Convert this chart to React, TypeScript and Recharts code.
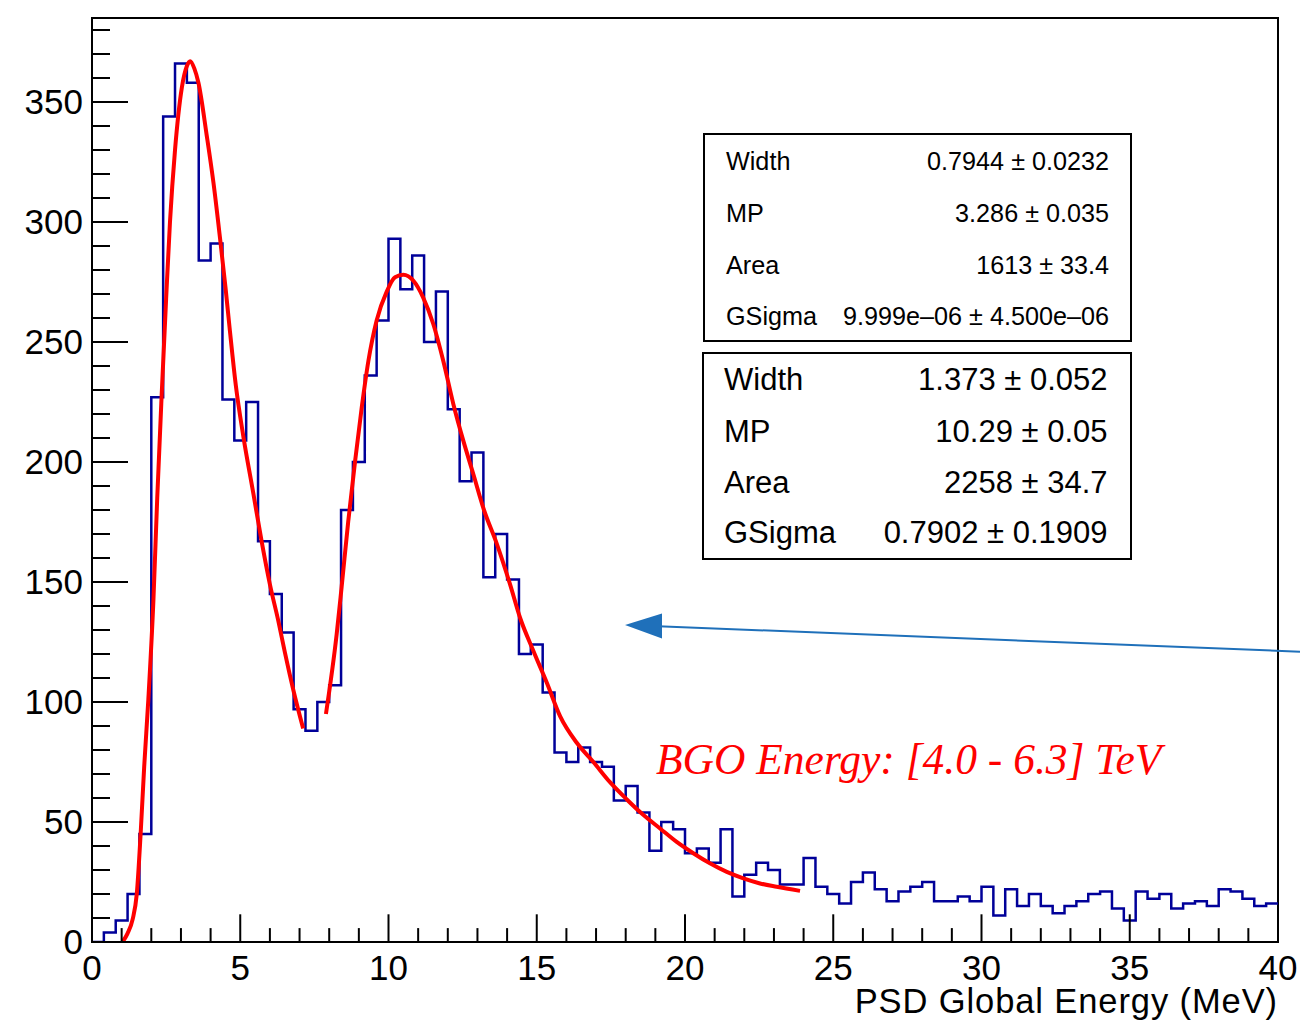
import React from 'react';
import { ComposedChart, Line, XAxis, YAxis, ReferenceArea } from 'recharts';

// Histogram: 100 bins of 0.4 MeV between 0 and 40 MeV
const BIN_WIDTH = 0.4;
const X_MIN = 0;
const X_MAX = 40;
const Y_MAX = 385;

const binCounts = [
  0, 4, 9, 20, 45, 227, 344, 366, 358, 284,
  291, 226, 209, 225, 167, 145, 129, 97, 88, 100,
  107, 180, 200, 236, 259, 293, 272, 286, 250, 271,
  222, 192, 204, 152, 170, 151, 120, 124, 104, 79,
  75, 81, 75, 73, 59, 65, 54, 38, 50, 47,
  37, 39, 33, 47, 19, 28, 33, 30, 24, 24,
  35, 23, 20, 16, 25, 29, 22, 17, 21, 23,
  25, 17, 17, 19, 17, 23, 11, 22, 15, 20,
  15, 12, 15, 17, 20, 21, 14, 9, 21, 18,
  20, 14, 16, 17, 15, 22, 21, 18, 15, 16,
];

// First fitted peak (Landau convolved with Gaussian)
const fit1Energy = [
  1.03, 1.2, 1.37, 1.51, 1.64, 1.76, 1.9, 2.07, 2.2, 2.35, 2.5, 2.63, 2.8,
  3.03, 3.2, 3.31, 3.45, 3.59, 3.87, 4.1, 4.32, 4.5, 4.64, 4.85, 5.1, 5.44,
  5.72, 6.0, 6.28, 6.5, 6.79, 7.12,
];
const fit1Counts = [
  0, 3.6, 9.4, 20, 45, 73, 101, 142, 185, 228, 268, 300, 330,
  356, 365, 367, 364, 358, 336, 316, 293, 273, 256, 232, 211, 187,
  167, 149, 134, 121, 105, 89,
];

// Second fitted peak
const fit2Energy = [
  7.89, 8.25, 8.42, 8.64, 8.87, 9.1, 9.32, 9.6, 9.94, 10.22, 10.5, 10.84,
  11.17, 11.51, 11.85, 12.19, 12.52, 12.86, 13.22, 13.65, 14.1, 14.44, 14.88,
  15.34, 15.79, 16.35, 16.91, 17.47, 18.03, 18.59, 19.16, 19.72, 20.28, 20.84,
  21.41, 21.97, 22.53, 23.09, 23.88,
];
const fit2Counts = [
  95, 128, 148, 175, 200, 223, 242, 259, 271, 277, 278, 275.5,
  268.5, 257.5, 242, 224, 209, 195, 180, 166, 149, 135, 121.5,
  108, 94, 83, 75, 66.6, 59.5, 53, 47.3, 41.7, 37, 32.8,
  29.2, 26.5, 24.4, 23, 21.3,
];

const xMajorTicks = [0, 5, 10, 15, 20, 25, 30, 35, 40];
const xAllTicks = [
  0, 1, 2, 3, 4, 5, 6, 7, 8, 9, 10, 11, 12, 13, 14, 15, 16, 17, 18, 19, 20,
  21, 22, 23, 24, 25, 26, 27, 28, 29, 30, 31, 32, 33, 34, 35, 36, 37, 38, 39, 40,
];
const yMajorTicks = [0, 50, 100, 150, 200, 250, 300, 350];
const yAllTicks = [
  0, 10, 20, 30, 40, 50, 60, 70, 80, 90, 100, 110, 120, 130, 140, 150, 160,
  170, 180, 190, 200, 210, 220, 230, 240, 250, 260, 270, 280, 290, 300, 310,
  320, 330, 340, 350, 360, 370, 380,
];

const xTitle = 'PSD Global Energy (MeV)';
const energyLabel = 'BGO Energy: [4.0 - 6.3] TeV';

const statNames = ['Width', 'MP', 'Area', 'GSigma'];
const fit1Stats = ['0.7944 ± 0.0232', '3.286 ± 0.035', '1613 ± 33.4', '9.999e–06 ± 4.500e–06'];
const fit2Stats = ['1.373 ± 0.052', '10.29 ± 0.05', '2258 ± 34.7', '0.7902 ± 0.1909'];

const histPoints = [
  ...binCounts.map((n, i) => ({ x: Number((X_MIN + i * BIN_WIDTH).toFixed(2)), n })),
  { x: X_MAX, n: binCounts[binCounts.length - 1] },
];
const fit1Points = fit1Energy.map((x, i) => ({ x, f: fit1Counts[i] }));
const fit2Points = fit2Energy.map((x, i) => ({ x, f: fit2Counts[i] }));

const HIST_COLOR = '#000099';
const FIT_COLOR = '#ff0000';
const ARROW_COLOR = '#1f70ba';
const SANS = '"Liberation Sans", Arial, Helvetica, sans-serif';

// ROOT-style ticks: drawn inward from the frame, long for labelled values
const XTick = (props: any) => {
  const { x, y, payload } = props;
  const v = payload.value;
  const major = xMajorTicks.includes(v);
  const len = major ? 27.7 : 13.9;
  return (
    <g>
      <line x1={x} x2={x} y1={y} y2={y - len} stroke="#000" strokeWidth={2} />
      {major && (
        <text x={x} y={y + 37.5} textAnchor="middle" fontSize={35} fontFamily={SANS} fill="#000">
          {v}
        </text>
      )}
    </g>
  );
};

const YTick = (props: any) => {
  const { x, y, payload } = props;
  const v = payload.value;
  const major = yMajorTicks.includes(v);
  const len = major ? 36 : 18;
  return (
    <g>
      <line x1={x} x2={x + len} y1={y} y2={y} stroke="#000" strokeWidth={2} />
      {major && (
        <text x={x - 9} y={y + 12} textAnchor="end" fontSize={35} fontFamily={SANS} fill="#000">
          {v}
        </text>
      )}
    </g>
  );
};

type StatBoxProps = {
  left: number;
  top: number;
  width: number;
  height: number;
  fontSize: number;
  labelX: number;
  valueX: number;
  baselines: number[];
  values: string[];
};

const StatBox = ({ left, top, width, height, fontSize, labelX, valueX, baselines, values }: StatBoxProps) => (
  <g fontFamily={SANS} fontSize={fontSize} fill="#000">
    <rect x={left} y={top} width={width} height={height} fill="#fff" stroke="#000" strokeWidth={2} />
    {statNames.map((name, i) => (
      <g key={name}>
        <text x={labelX} y={baselines[i]}>{name}</text>
        <text x={valueX} y={baselines[i]} textAnchor="end">{values[i]}</text>
      </g>
    ))}
  </g>
);

export default function App() {
  return (
    <div
      style={{
        position: 'absolute',
        left: 0,
        top: 0,
        width: 1300,
        height: 1021,
        background: '#fff',
        fontFamily: SANS,
      }}
    >
      <ComposedChart width={1300} height={1021} margin={{ top: 18, right: 22, bottom: 0, left: 0 }}>
        <XAxis
          type="number"
          dataKey="x"
          domain={[X_MIN, X_MAX]}
          ticks={xAllTicks}
          interval={0}
          height={79}
          tickSize={0}
          tickMargin={0}
          axisLine={false}
          tickLine={false}
          tick={<XTick />}
          allowDataOverflow
        />
        <YAxis
          type="number"
          domain={[0, Y_MAX]}
          ticks={yAllTicks}
          interval={0}
          width={92}
          tickSize={0}
          tickMargin={0}
          axisLine={false}
          tickLine={false}
          tick={<YTick />}
          allowDataOverflow
        />
        <ReferenceArea x1={X_MIN} x2={X_MAX} y1={0} y2={Y_MAX} fill="none" stroke="#000" strokeWidth={2} />
        <Line
          data={histPoints}
          dataKey="n"
          type="stepAfter"
          stroke={HIST_COLOR}
          strokeWidth={2.5}
          dot={false}
          activeDot={false}
          isAnimationActive={false}
        />
        <Line
          data={fit1Points}
          dataKey="f"
          type="monotone"
          stroke={FIT_COLOR}
          strokeWidth={4}
          dot={false}
          activeDot={false}
          isAnimationActive={false}
        />
        <Line
          data={fit2Points}
          dataKey="f"
          type="monotone"
          stroke={FIT_COLOR}
          strokeWidth={4}
          dot={false}
          activeDot={false}
          isAnimationActive={false}
        />
      </ComposedChart>

      <svg
        width={1300}
        height={1021}
        style={{ position: 'absolute', left: 0, top: 0, pointerEvents: 'none' }}
      >
        <text
          x={1278}
          y={1013}
          textAnchor="end"
          fontSize={34.5}
          letterSpacing={0.9}
          fontFamily={SANS}
          fill="#000"
        >
          {xTitle}
        </text>

        <StatBox
          left={704}
          top={134}
          width={427}
          height={207}
          fontSize={25.2}
          labelX={726}
          valueX={1109}
          baselines={[169.5, 221.5, 273.5, 325]}
          values={fit1Stats}
        />
        <StatBox
          left={703}
          top={353}
          width={428}
          height={206}
          fontSize={31}
          labelX={724}
          valueX={1107.5}
          baselines={[390, 441.7, 492.7, 542.5]}
          values={fit2Stats}
        />

        <text
          x={656}
          y={774}
          fontSize={43.5}
          fontStyle="italic"
          fontFamily='"Liberation Serif", "Times New Roman", serif'
          fill={FIT_COLOR}
        >
          {energyLabel}
        </text>

        <line x1={1300} y1={651.7} x2={658} y2={626.2} stroke={ARROW_COLOR} strokeWidth={2} />
        <polygon points="625,625 662,613.5 662,638.5" fill={ARROW_COLOR} />
      </svg>
    </div>
  );
}
